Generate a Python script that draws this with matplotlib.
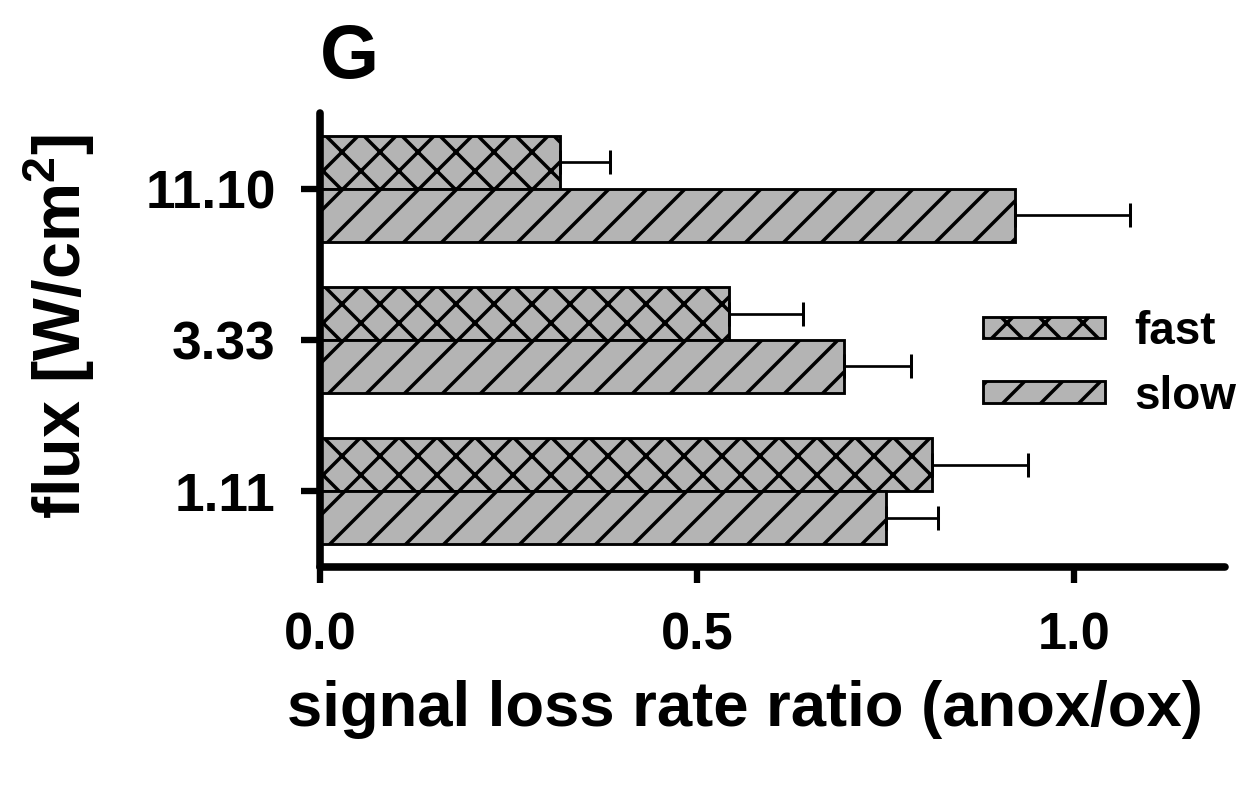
import numpy as np
import matplotlib
matplotlib.use("Agg")
import matplotlib.pyplot as plt

plt.rcParams['font.family'] = ['Liberation Sans', 'DejaVu Sans']
plt.rcParams['font.weight'] = 'bold'
plt.rcParams['mathtext.fontset'] = 'custom'
plt.rcParams['mathtext.rm'] = 'Liberation Sans:bold'
plt.rcParams['mathtext.bf'] = 'Liberation Sans:bold'
plt.rcParams['mathtext.it'] = 'Liberation Sans:bold'
plt.rcParams['hatch.linewidth'] = 1.1

# data (bottom to top on the y axis)
flux = ["1.11", "3.33", "11.10"]
fast = [0.811, 0.542, 0.318]
fast_err = [0.128, 0.099, 0.067]
slow = [0.750, 0.695, 0.922]
slow_err = [0.070, 0.089, 0.152]

DPI = 228
fig = plt.figure(figsize=(1241 / DPI, 788 / DPI), dpi=DPI)
ax = fig.add_axes([320 / 1241, 1 - 567 / 788, 905 / 1241, 454 / 788])

y = np.arange(len(flux))
h = 0.35
gray = '#b4b4b4'

ax.barh(y + h / 2, fast, height=h, color=gray, edgecolor='k', linewidth=0.9,
        hatch='xx', label='fast')
ax.barh(y - h / 2, slow, height=h, color=gray, edgecolor='k', linewidth=0.9,
        hatch='//', label='slow')
ax.errorbar(fast, y + h / 2, xerr=[np.zeros(3), fast_err], fmt='none',
            ecolor='k', elinewidth=0.85, capsize=3.8, capthick=0.95)
ax.errorbar(slow, y - h / 2, xerr=[np.zeros(3), slow_err], fmt='none',
            ecolor='k', elinewidth=0.85, capsize=3.8, capthick=0.95)

ax.set_xlim(0, 1.2)
ax.set_ylim(-0.5, 2.5)
ax.set_xticks([0.0, 0.5, 1.0])
ax.set_xticklabels(["0.0", "0.5", "1.0"])
ax.set_yticks(y)
ax.set_yticklabels(flux)

for s in ['top', 'right']:
    ax.spines[s].set_visible(False)
for s in ['left', 'bottom']:
    ax.spines[s].set_linewidth(2.4)
    ax.spines[s].set_capstyle('round')

ax.tick_params(axis='x', direction='out', length=5, width=2, pad=9, labelsize=16.5)
ax.tick_params(axis='y', direction='out', length=6, width=2, pad=8, labelsize=16.8)

ax.set_xlabel("signal loss rate ratio (anox/ox)", fontsize=20, fontweight='bold')
ax.xaxis.set_label_coords(0.47, -0.248)
ax.set_ylabel("flux [W/cm$^2$]", fontsize=21, fontweight='bold')
ax.yaxis.set_label_coords(-0.246, 0.53)

fig.text(320 / 1241, 1 - 78 / 788, "G", fontsize=24, fontweight='bold',
         ha='left', va='baseline')

ax.legend(loc='upper left', bbox_to_anchor=(983 / 1241, 1 - 310 / 788),
          bbox_transform=fig.transFigure, frameon=False, fontsize=14.5,
          handlelength=2.66, handleheight=0.35, handletextpad=0.63,
          labelspacing=0.45, borderpad=0, borderaxespad=0)

fig.savefig("out.png", dpi=DPI)
